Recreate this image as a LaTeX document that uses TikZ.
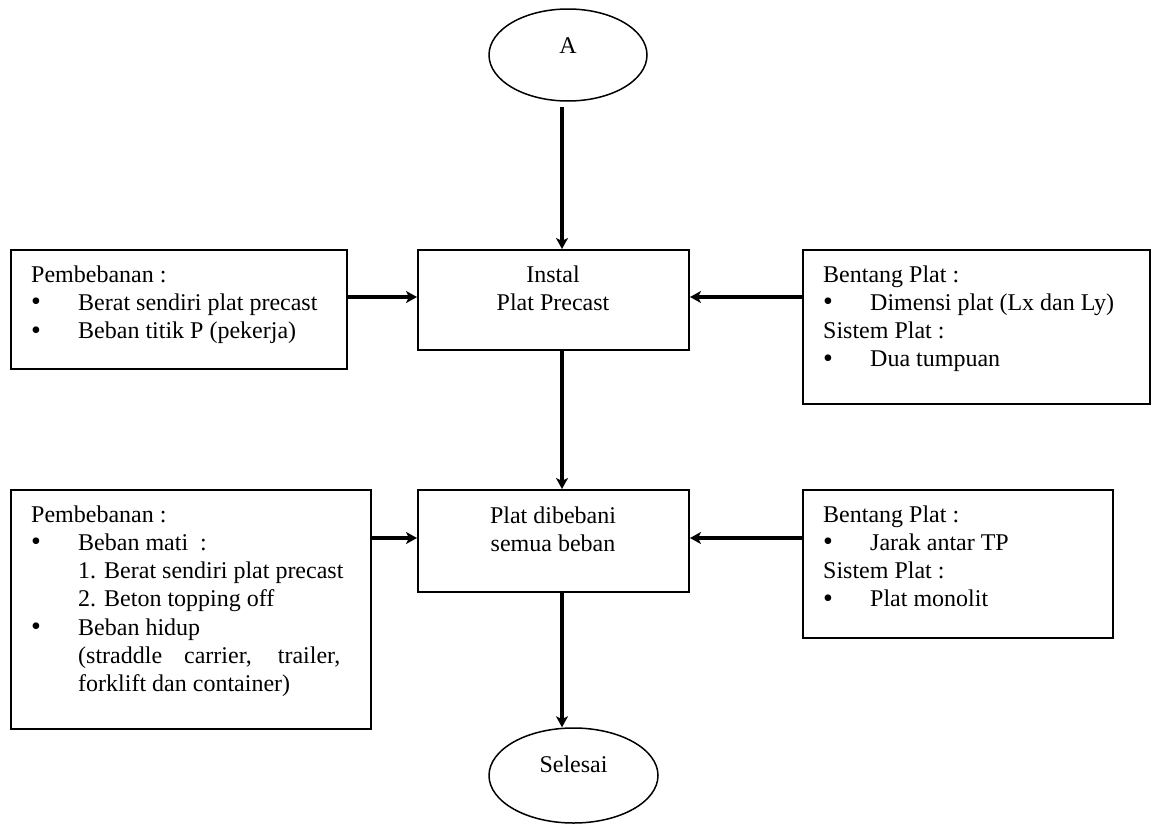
\documentclass[tikz,border=0pt]{standalone}
\usepackage{fontspec}
\setmainfont{Liberation Serif}
\usetikzlibrary{arrows.meta,shapes.geometric}
\newcommand\bul{\makebox[47pt][l]{\raisebox{-0.5pt}[0pt][0pt]{\fontsize{28}{28}\selectfont •}}}
\newcommand\ind{\hspace*{47pt}}
\begin{document}
\begin{tikzpicture}[x=1pt,y=-1pt,
  box/.style={draw,line width=2pt,rectangle,anchor=north west,inner sep=0pt},
  oval/.style={draw,line width=1.5pt,ellipse,inner sep=0pt,font=\fontsize{24}{28.3}\selectfont},
  txt/.style={inner sep=0pt,anchor=base west,font=\fontsize{24}{28.3}\selectfont},
  ctxt/.style={inner sep=0pt,anchor=base,font=\fontsize{24}{28.3}\selectfont},
  arr/.style={line width=3.5pt,-{Stealth[length=11pt,width=12pt,inset=3pt]}}]
\useasboundingbox (0,0) rectangle (1151,825);

% ovals
\node[oval,minimum width=158pt,minimum height=92pt] (A) at (568,55) {\raisebox{2pt}[0pt][0pt]{A}};
\node[oval,minimum width=169pt,minimum height=95pt] (S) at (573.5,775.5) {\raisebox{3.5pt}[0pt][0pt]{Selesai}};

% central boxes
\node[box,minimum width=271pt,minimum height=100pt] (I) at (417,249) {};
\node[ctxt] (It) at (553,282) {\vtop{\hbox to 0pt{\hss Instal\hss}\hbox to 0pt{\hss Plat Precast\hss}}};
\node[box,minimum width=271pt,minimum height=102pt] (P) at (417,489) {};
\node[ctxt] (Pt) at (553,523) {\vtop{\hbox to 0pt{\hss Plat dibebani\hss}\hbox to 0pt{\hss semua beban\hss}}};

% side boxes
\node[box,minimum width=336pt,minimum height=119pt] (L1) at (10,249) {};
\node[txt] (L1t) at (31,282) {\vtop{\hbox{Pembebanan :}\hbox{\bul Berat sendiri plat precast}\hbox{\bul Beban titik P (pekerja)}}};

\node[box,minimum width=347pt,minimum height=154pt] (R1) at (802,249) {};
\node[txt] (R1t) at (823,282) {\vtop{\hbox{Bentang Plat :}\hbox{\bul Dimensi plat (Lx dan Ly)}\hbox{Sistem Plat :}\hbox{\bul Dua tumpuan}}};

\node[box,minimum width=360pt,minimum height=239pt] (L2) at (10,489) {};
\node[txt] (L2t) at (31,522) {\vtop{\hbox{Pembebanan :}\hbox{\bul Beban mati~~:}\hbox{\ind 1. Berat sendiri plat precast}\hbox{\ind 2. Beton topping off}\hbox{\bul Beban hidup}\hbox{\ind\makebox[262pt][s]{(straddle carrier, trailer,}}\hbox{\ind forklift dan container)}}};

\node[box,minimum width=310pt,minimum height=148pt] (R2) at (802,489) {};
\node[txt] (R2t) at (823,522) {\vtop{\hbox{Bentang Plat :}\hbox{\bul Jarak antar TP}\hbox{Sistem Plat :}\hbox{\bul Plat monolit}}};

% connectors
\coordinate (cx) at (562,0);
\coordinate (y1) at (0,297);
\coordinate (y2) at (0,538);
\draw[arr,shorten <=5pt] (A.south -| cx) -- (I.north -| cx);
\draw[arr] (I.south -| cx) -- (P.north -| cx);
\draw[arr] (P.south -| cx) -- (S.north -| cx);
\draw[arr] (L1.east |- y1) -- (I.west |- y1);
\draw[arr] (R1.west |- y1) -- (I.east |- y1);
\draw[arr] (L2.east |- y2) -- (P.west |- y2);
\draw[arr] (R2.west |- y2) -- (P.east |- y2);
\end{tikzpicture}
\end{document}
